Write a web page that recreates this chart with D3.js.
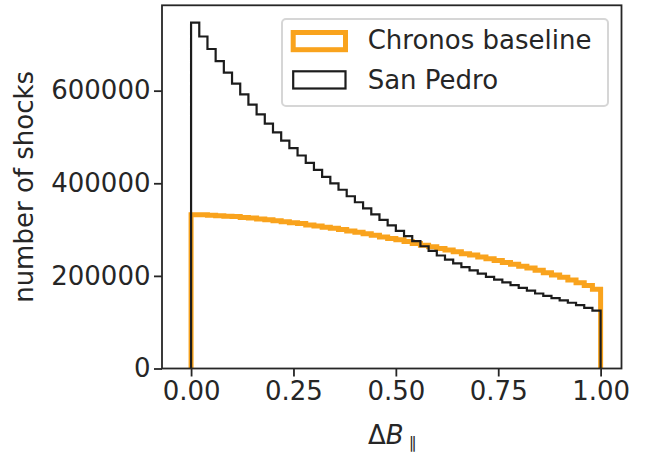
<!DOCTYPE html>
<html>
<head>
<meta charset="utf-8">
<script src="https://cdn.jsdelivr.net/npm/d3@7"></script>
<style>
  html, body { margin: 0; padding: 0; background: #ffffff; }
  svg { display: block; }
  text { font-family: "DejaVu Sans", sans-serif; fill: #262626; }
</style>
</head>
<body>
<svg id="chart" width="657" height="453"></svg>
<script>
// Histogram counts per bin (50 bins of width 0.02 over [0, 1])
const binEdges = d3.range(51).map(i => +(i * 0.02).toFixed(2));

const chronosBaseline = [
  332000, 332000, 331000, 330000, 329000, 328000, 326000, 325000, 323000, 321000,
  319000, 317000, 315000, 313000, 310000, 308000, 305000, 303000, 300000, 297000,
  294000, 291000, 288000, 284000, 281000, 278000, 274000, 270000, 266000, 263000,
  259000, 256000, 252000, 248000, 245000, 241000, 237000, 233000, 229000, 225000,
  221000, 217000, 212000, 207000, 202000, 197000, 191000, 185000, 179000, 171000
];

const sanPedro = [
  747000, 717000, 690000, 664000, 639000, 615000, 592000, 570000, 549000, 529000,
  510000, 492000, 476000, 460000, 444000, 429000, 414000, 400000, 386000, 372000,
  359000, 346000, 333000, 321000, 309000, 297000, 286000, 275000, 264000, 254000,
  244000, 235000, 227000, 219000, 212000, 205000, 198000, 192000, 186000, 180000,
  174000, 168000, 162000, 157000, 152000, 147000, 142000, 137000, 131000, 125000
];

const seriesNames = ["Chronos baseline", "San Pedro"];
const xTicks = [0, 0.25, 0.5, 0.75, 1.0];
const yTicks = [0, 200000, 400000, 600000];

const svg = d3.select("#chart");
const plot = { left: 162, right: 621.5, top: 5.3, bottom: 368.5 };

const x = d3.scaleLinear().domain([-0.071, 1.051]).range([plot.left, plot.right]);
const yMax = d3.max(sanPedro) * 1.05;
const y = d3.scaleLinear().domain([0, yMax]).range([plot.bottom, plot.top]);

// step outline of a histogram, closed down to zero at both ends
function stepPoints(values) {
  const pts = [[binEdges[0], 0]];
  values.forEach((v, i) => {
    pts.push([binEdges[i], v]);
    pts.push([binEdges[i + 1], v]);
  });
  pts.push([binEdges[binEdges.length - 1], 0]);
  return pts;
}
const line = d3.line().x(d => x(d[0])).y(d => y(d[1]));

const orange = "#f9a31d";
const dark = "#1c1c1c";

svg.append("path")
  .attr("d", line(stepPoints(chronosBaseline)))
  .attr("fill", "none")
  .attr("stroke", orange)
  .attr("stroke-width", 5)
  .attr("stroke-linejoin", "miter");

svg.append("path")
  .attr("d", line(stepPoints(sanPedro)))
  .attr("fill", "none")
  .attr("stroke", dark)
  .attr("stroke-width", 2.2)
  .attr("stroke-linejoin", "miter");

// axes
const xAxis = d3.axisBottom(x).tickValues(xTicks).tickFormat(d3.format(".2f"))
  .tickSize(8).tickPadding(5);
const yAxis = d3.axisLeft(y).tickValues(yTicks).tickFormat(d3.format("d"))
  .tickSize(8).tickPadding(3.5);

const gx = svg.append("g").attr("transform", `translate(0,${plot.bottom})`).call(xAxis);
const gy = svg.append("g").attr("transform", `translate(${plot.left},0)`).call(yAxis);
[gx, gy].forEach(g => {
  g.select(".domain").remove();
  g.selectAll(".tick line").attr("stroke", "#262626").attr("stroke-width", 1.8);
  g.selectAll(".tick text").attr("font-size", 26).attr("font-family", "DejaVu Sans").attr("fill", "#262626");
});

// frame
svg.append("rect")
  .attr("x", plot.left).attr("y", plot.top)
  .attr("width", plot.right - plot.left).attr("height", plot.bottom - plot.top)
  .attr("fill", "none").attr("stroke", "#262626").attr("stroke-width", 1.8);

// axis labels
svg.append("text")
  .attr("transform", `translate(33,${(plot.top + plot.bottom) / 2}) rotate(-90)`)
  .attr("text-anchor", "middle")
  .attr("font-size", 26)
  .text("number of shocks");

const xl = svg.append("text")
  .attr("x", 368).attr("y", 444)
  .attr("font-size", 26);
xl.append("tspan").text("Δ");
xl.append("tspan").attr("font-style", "italic").text("B");
xl.append("tspan").attr("font-size", 16).attr("dx", 5).attr("dy", 4).text("∥");

// legend
const lg = svg.append("g");
lg.append("rect")
  .attr("x", 282).attr("y", 19).attr("width", 326).attr("height", 87)
  .attr("rx", 4).attr("ry", 4)
  .attr("fill", "#ffffff").attr("fill-opacity", 0.8)
  .attr("stroke", "#d6d6d6").attr("stroke-width", 2);

const legendItems = [
  { name: seriesNames[0], color: orange, width: 5, top: 32.5, base: 49.3 },
  { name: seriesNames[1], color: dark, width: 2.2, top: 71.3, base: 89.3 }
];
legendItems.forEach(it => {
  lg.append("rect")
    .attr("x", 293.2).attr("y", it.top).attr("width", 52.3).attr("height", 17.2)
    .attr("fill", "none").attr("stroke", it.color).attr("stroke-width", it.width);
  lg.append("text")
    .attr("x", 367.7).attr("y", it.base)
    .attr("font-size", 26)
    .text(it.name);
});
</script>
</body>
</html>
